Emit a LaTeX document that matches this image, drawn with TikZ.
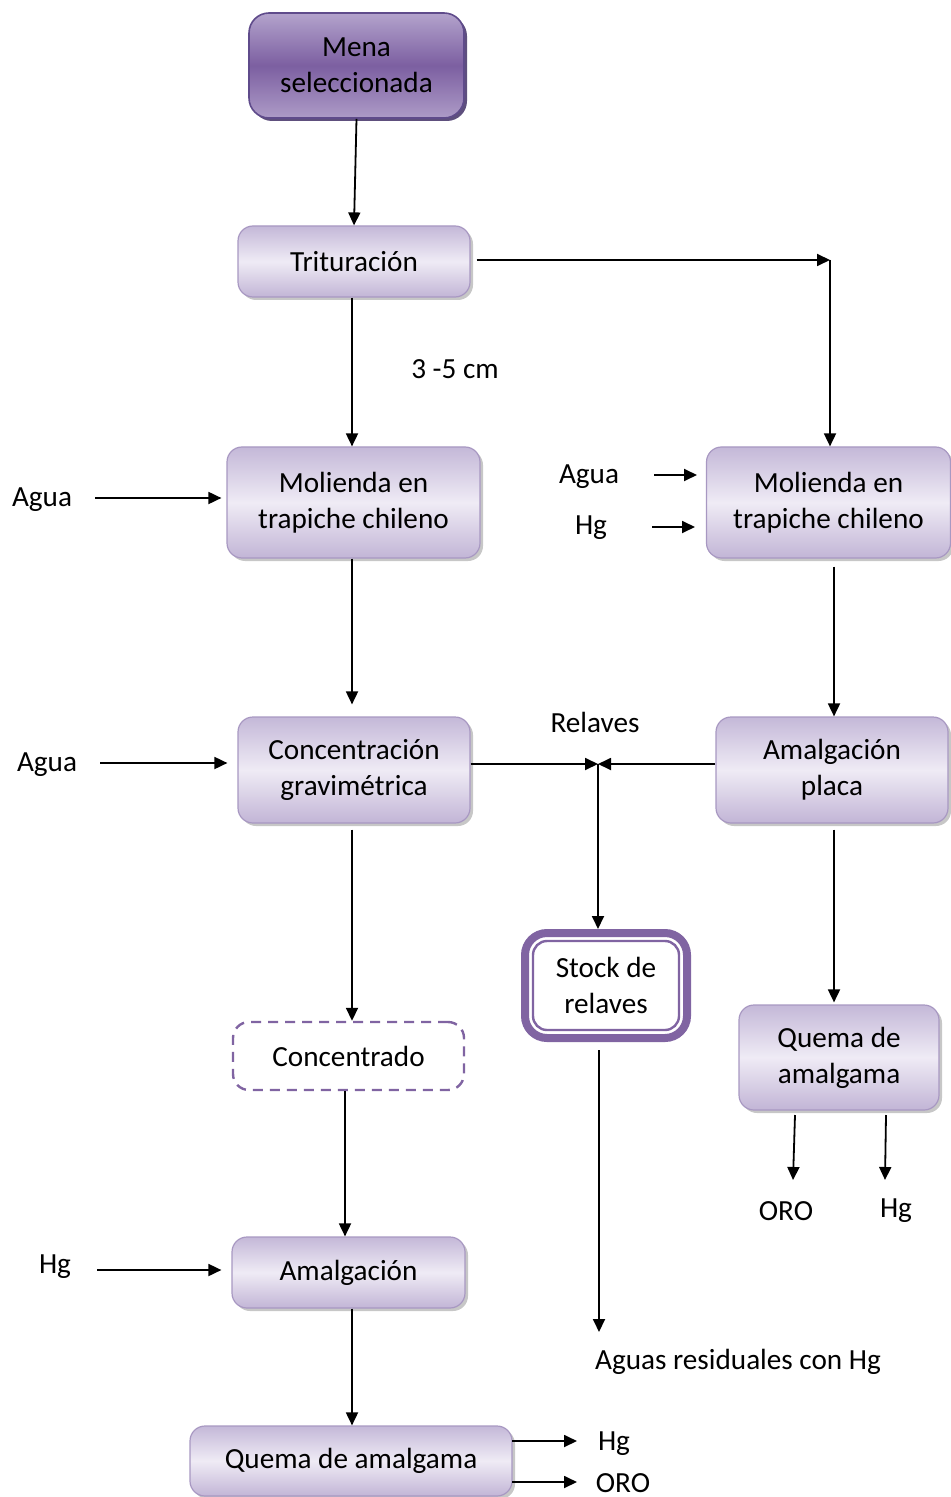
\documentclass[tikz,border=0pt]{standalone}
\usepackage{fontspec}
\setmainfont{Carlito}
\usetikzlibrary{arrows.meta,shadows}

\definecolor{lavtop}{HTML}{C4B8D8}
\definecolor{lavmid}{HTML}{EFEBF5}
\definecolor{lavbot}{HTML}{C2B5D6}
\definecolor{lavline}{HTML}{A898C2}
\definecolor{plumtop}{HTML}{B3A3CC}
\definecolor{plummid}{HTML}{7C5FA1}
\definecolor{plumbot}{HTML}{AD9BC7}
\definecolor{plumline}{HTML}{5F4B8B}
\definecolor{violet}{HTML}{8064A2}

\begin{document}
\begin{tikzpicture}[x=0.5pt,y=-0.5pt,
  font=\fontsize{14.6}{18}\selectfont,
  procbox/.style={draw=lavline, line width=0.6pt, rounded corners=7.5pt,
    top color=lavtop, bottom color=lavbot, middle color=lavmid,
    drop shadow={shadow xshift=1.5pt, shadow yshift=-1.5pt, fill=gray!55, opacity=0.8},
    align=center, inner sep=2pt},
  startbox/.style={draw=plumline, line width=0.8pt, rounded corners=10pt,
    top color=plumtop, bottom color=plumbot, middle color=plummid,
    drop shadow={shadow xshift=1.5pt, shadow yshift=-1.5pt, fill=plumline!80!black, opacity=0.9},
    align=center, inner sep=2pt},
  stockbox/.style={draw=violet, line width=4pt, rounded corners=11pt, fill=white,
    align=center, inner sep=2pt},
  stockinner/.style={draw=violet, line width=1.2pt, rounded corners=7pt},
  dashbox/.style={draw=violet, line width=1.2pt, dash pattern=on 5pt off 3.5pt,
    rounded corners=8pt, fill=white, align=center, inner sep=2pt},
  lbl/.style={inner sep=1pt, align=center},
  arr/.style={line width=0.9pt, -{Triangle[length=6.5pt,width=6pt]}}
]
\useasboundingbox (0,0) rectangle (951,1497);

% --- process boxes ---
\node[startbox, minimum width=107.5pt, minimum height=52.5pt] (mena) at (356.5,65.5) {Mena\\seleccionada};
\node[procbox, minimum width=116pt, minimum height=35.5pt] (trit) at (354,261.5) {Trituración};
\node[procbox, minimum width=126.5pt, minimum height=55.5pt] (molL) at (353.5,502.5) {Molienda en\\trapiche chileno};
\node[procbox, minimum width=122pt, minimum height=55.5pt] (molR) at (828.5,502.5) {Molienda en\\trapiche chileno};
\node[procbox, minimum width=116pt, minimum height=53pt] (conc) at (354,770) {Concentración\\gravimétrica};
\node[procbox, minimum width=116pt, minimum height=53pt] (amp) at (832,770) {Amalgación\\placa};
\node[stockbox, minimum width=81pt, minimum height=52.5pt] (stock) at (606,985.5) {Stock de\\relaves};
\draw[stockinner] ([shift={(6pt,-6pt)}]stock.north west) rectangle ([shift={(-6pt,6pt)}]stock.south east);
\node[dashbox, minimum width=115.5pt, minimum height=34pt] (cdo) at (348.5,1056) {Concentrado};
\node[procbox, minimum width=100pt, minimum height=52.5pt] (quemaR) at (839,1057.5) {Quema de\\amalgama};
\node[procbox, minimum width=116.5pt, minimum height=35.5pt] (amal) at (348.5,1272.5) {Amalgación};
\node[procbox, minimum width=161pt, minimum height=35pt] (quemaB) at (351,1461) {Quema de amalgama};

% --- free labels ---
\node[lbl] (cm) at (455,369) {3 -5 cm};
\node[lbl] (agua1) at (42,500) {Agua};
\node[lbl] (agua2) at (589,477) {Agua};
\node[lbl] (hg1) at (591,528) {Hg};
\node[lbl] (agua3) at (47,765) {Agua};
\node[lbl] (rel) at (595,722) {Relaves};
\node[lbl] (oro1) at (786,1211) {ORO};
\node[lbl] (hg2) at (896,1211) {Hg};
\node[lbl] (aguas) at (738,1362) {Aguas residuales con Hg};
\node[lbl] (hg3) at (55,1267) {Hg};
\node[lbl] (hg4) at (614,1444) {Hg};
\node[lbl] (oro2) at (623,1483) {ORO};

% --- auxiliary points ---
\coordinate (tr) at (830,260);
\coordinate (jn) at (598,764);
\coordinate (a1s) at (95,498);
\coordinate (a2s) at (654,475);
\coordinate (a2e) at (697,475);
\coordinate (h1s) at (652,527);
\coordinate (h1e) at (695,527);
\coordinate (a3s) at (100,763);
\coordinate (h3s) at (97,1270);
\coordinate (oroS) at (795,1115);
\coordinate (oroE) at (793,1180);
\coordinate (hgS) at (886,1115);
\coordinate (hgE) at (885,1180);
\coordinate (wEnd) at (599,1332);
\coordinate (hg4s) at (512,1441);
\coordinate (hg4e) at (577,1441);
\coordinate (oro2s) at (512,1482);
\coordinate (oro2e) at (577,1482);
\coordinate (colL) at (352,0);
\coordinate (colC) at (345,0);
\coordinate (colR) at (834,0);

% --- connectors ---
\draw[arr] (mena.south) -- (trit.north);
\draw[arr] (colL |- trit.south) -- (colL |- molL.north);
\draw[arr] ([xshift=3pt]trit.east |- tr) -- (tr);
\draw[arr] (tr) -- (tr |- molR.north);
\draw[arr] (a1s) -- ([xshift=-2.5pt]molL.west |- a1s);
\draw[arr] (a2s) -- (a2e);
\draw[arr] (h1s) -- (h1e);
\draw[arr] (colL |- molL.south) -- ([yshift=6pt]colL |- conc.north);
\draw[arr] ([yshift=-4pt]colR |- molR.south) -- (colR |- amp.north);
\draw[arr] (a3s) -- ([xshift=-5pt]conc.west |- a3s);
\draw[arr] (conc.east |- jn) -- (jn);
\draw[arr] (amp.west |- jn) -- (jn);
\draw[arr] (jn) -- (jn |- stock.north);
\draw[arr] ([yshift=-3pt]colL |- conc.south) -- (colL |- cdo.north);
\draw[arr] ([yshift=-3pt]colR |- amp.south) -- ([yshift=1pt]colR |- quemaR.north);
\draw[arr] (oroS) -- (oroE);
\draw[arr] (hgS) -- (hgE);
\draw[arr] ([yshift=-4pt]wEnd |- stock.south) -- (wEnd);
\draw[arr] (colC |- cdo.south) -- (colC |- amal.north);
\draw[arr] (h3s) -- ([xshift=-5pt]amal.west |- h3s);
\draw[arr] (colL |- amal.south) -- (colL |- quemaB.north);
\draw[arr] (hg4s) -- (hg4e);
\draw[arr] (oro2s) -- (oro2e);
\end{tikzpicture}
\end{document}
